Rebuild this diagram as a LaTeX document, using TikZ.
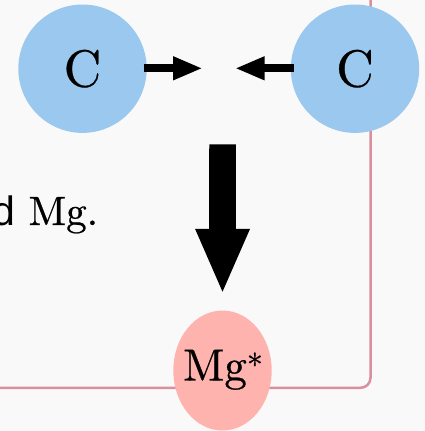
\documentclass[tikz,border=0pt]{standalone}
\usepackage{fontspec}
\setmainfont{lmroman10-regular.otf}
\newfontfamily\sansfont{Liberation Sans}
\newcommand\heavier{\addfontfeature{FakeBold=0.6}}
\usetikzlibrary{arrows.meta,shapes.geometric}
\definecolor{bgc}{HTML}{F9F9F9}
\definecolor{bluec}{HTML}{9BC8EF}
\definecolor{pinkc}{HTML}{FFB3AE}
\definecolor{framec}{HTML}{DA8F9F}
\begin{document}
\begin{tikzpicture}[x=1pt,y=-1pt,
  atom/.style={circle,fill=bluec,minimum size=128.4pt,inner sep=0pt,font=\fontsize{52}{60}\selectfont\heavier},
  excited/.style={ellipse,fill=pinkc,minimum width=98.4pt,minimum height=120pt,inner sep=0pt},
  smallarrow/.style={line width=8pt,-{Triangle[length=29.5pt,width=21.7pt]}},
  bigarrow/.style={line width=26.7pt,-{Triangle[length=65.7pt,width=49.3pt]}},
  frame/.style={draw=framec,line width=2.5pt,rounded corners=10pt}]
\useasboundingbox (0,0) rectangle (425,431);
\fill[bgc] (0,0) rectangle (425,431);
\draw[frame] (-30,-30) rectangle (370.5,387.8);
\node[atom] (c1) at (82.5,68.7) {C};
\node[atom] (c2) at (355,68.7) {C};
\node[excited] (mg) at (222.5,370.5) {};
\node[anchor=base,inner sep=0pt,font=\fontsize{45}{52}\selectfont\heavier] (mgl) at (223,380.5) {Mg\raisebox{4pt}{\fontsize{32}{36}\selectfont\heavier *}};
\coordinate (t1) at (202.7,68.3);
\coordinate (t2) at (235,68.3);
\coordinate (top) at (222.6,144.3);
\draw[smallarrow] ([xshift=-3.4pt,yshift=0.4pt]c1.east) -- (t1);
\draw[smallarrow] ([xshift=3pt,yshift=0.4pt]c2.west) -- (t2);
\draw[bigarrow,shorten >=15.7pt] (top) -- (mg.north);
\node[anchor=base east,inner sep=0pt,font=\fontsize{41}{48}\selectfont] (txt) at (98.3,225) {{\sansfont d} {\heavier Mg.}};
\end{tikzpicture}
\end{document}
